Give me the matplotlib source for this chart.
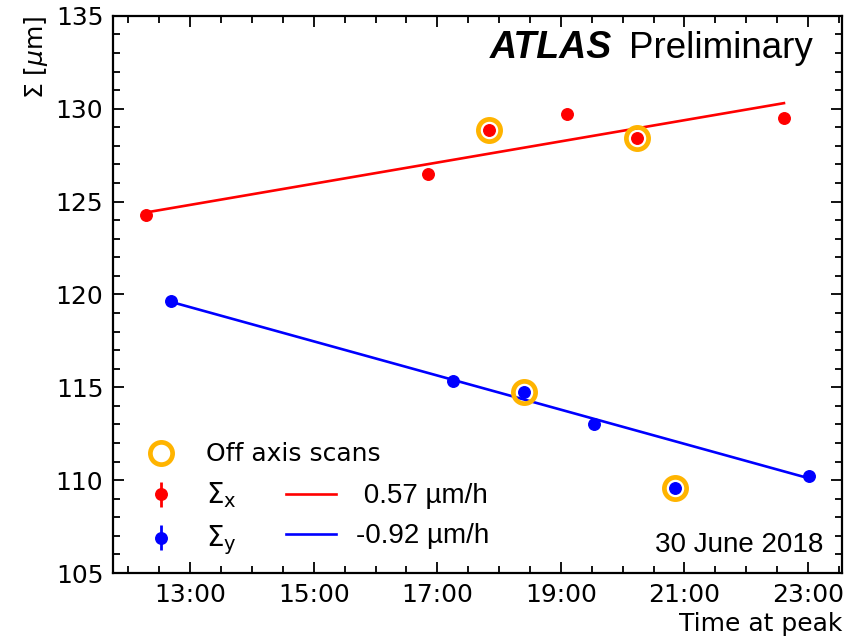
import numpy as np
import matplotlib
matplotlib.use("Agg")
import matplotlib.pyplot as plt
from matplotlib.lines import Line2D
from matplotlib.ticker import MultipleLocator, FuncFormatter

# Beam size per scan (hours of the day, micrometres)
time_x = [12.29, 16.85, 17.84, 19.10, 20.23, 22.61]
sigma_x = [124.28, 126.49, 128.84, 129.74, 128.41, 129.52]
err_x = [0.15, 0.15, 0.15, 0.15, 0.15, 0.15]

time_y = [12.69, 17.25, 18.40, 19.54, 20.85, 23.01]
sigma_y = [119.65, 115.34, 114.77, 113.03, 109.60, 110.23]
err_y = [0.15, 0.15, 0.15, 0.15, 0.15, 0.15]

# scans taken off axis (indices into the arrays above)
off_axis_x = [2, 4]
off_axis_y = [2, 4]

# linear fits: value at first scan and slope in um/h
fit_x_start, slope_x = 124.42, 0.57
fit_y_start, slope_y = 119.60, -0.92

ORANGE = "#FFB400"

plt.rcParams["mathtext.fontset"] = "dejavusans"

fig = plt.figure(figsize=(8.63, 6.36), dpi=100)
ax = fig.add_axes([0.131, 0.099, 0.8447, 0.876])

# off-axis rings first, points on top
ring_style = dict(ls="none", marker="o", ms=16, mfc="none", mec=ORANGE, mew=3.4, zorder=2)
ax.plot([time_x[i] for i in off_axis_x], [sigma_x[i] for i in off_axis_x], **ring_style)
ax.plot([time_y[i] for i in off_axis_y], [sigma_y[i] for i in off_axis_y], **ring_style)

ex = ax.errorbar(time_x, sigma_x, yerr=err_x, fmt="o", color="red", ms=8.3, elinewidth=2, zorder=3)
ey = ax.errorbar(time_y, sigma_y, yerr=err_y, fmt="o", color="blue", ms=8.3, elinewidth=2, zorder=3)

tx = np.array([time_x[0], time_x[-1]])
ty = np.array([time_y[0], time_y[-1]])
lx, = ax.plot(tx, fit_x_start + slope_x * (tx - tx[0]), color="red", lw=1.9, zorder=1)
ly, = ax.plot(ty, fit_y_start + slope_y * (ty - ty[0]), color="blue", lw=1.9, zorder=1)

ax.set_xlim(11.75, 23.55)
ax.set_ylim(105, 135)
ax.xaxis.set_minor_locator(MultipleLocator(0.5))
ax.set_xticks(np.arange(13, 24, 2))
ax.xaxis.set_major_formatter(FuncFormatter(lambda v, p: f"{int(round(v)):d}:00"))
ax.yaxis.set_major_locator(MultipleLocator(5))
ax.yaxis.set_minor_locator(MultipleLocator(1))

ax.tick_params(which="both", direction="in", top=True, right=True, width=1.3, labelsize=18)
ax.tick_params(which="major", length=8, pad=7)
ax.tick_params(which="minor", length=5)
for s in ax.spines.values():
    s.set_linewidth(1.6)

ax.set_xlabel("Time at peak", fontsize=18, loc="right")
ax.set_ylabel(r"$\Sigma$ [$\mu$m]", fontsize=18, loc="top")

# labels
ax.text(0.517, 0.9246, "ATLAS", transform=ax.transAxes, fontsize=27,
        family="Liberation Sans", weight="bold", style="italic", ha="left", va="baseline")
ax.text(0.708, 0.9246, "Preliminary", transform=ax.transAxes, fontsize=26.5,
        family="Liberation Sans", ha="left", va="baseline")
ax.text(0.974, 0.0377, "30 June 2018", transform=ax.transAxes, fontsize=20,
        family="Liberation Sans", ha="right", va="baseline")

# legends: fits next to the scan points, off-axis marker above
leg = ax.legend([ex, ey, lx, ly],
                [r"$\Sigma_{\mathrm{x}}$", r"$\Sigma_{\mathrm{y}}$", " 0.57 µm/h", "-0.92 µm/h"],
                ncol=2, loc="lower left", fontsize=18, frameon=False,
                labelspacing=0.55, bbox_to_anchor=(0, -0.012))
for t in leg.get_texts()[:2]:
    t.set_fontsize(20)
for t in leg.get_texts()[2:]:
    t.set_fontfamily("Liberation Sans")
    t.set_fontsize(20)
ax.add_artist(leg)

ring = Line2D([], [], ls="none", marker="o", ms=16, mfc="none", mec=ORANGE, mew=3.4)
ax.legend([ring], ["Off axis scans"], loc="lower left", bbox_to_anchor=(0, 0.151),
          fontsize=18, frameon=False)

fig.savefig("out.png", dpi=100)
